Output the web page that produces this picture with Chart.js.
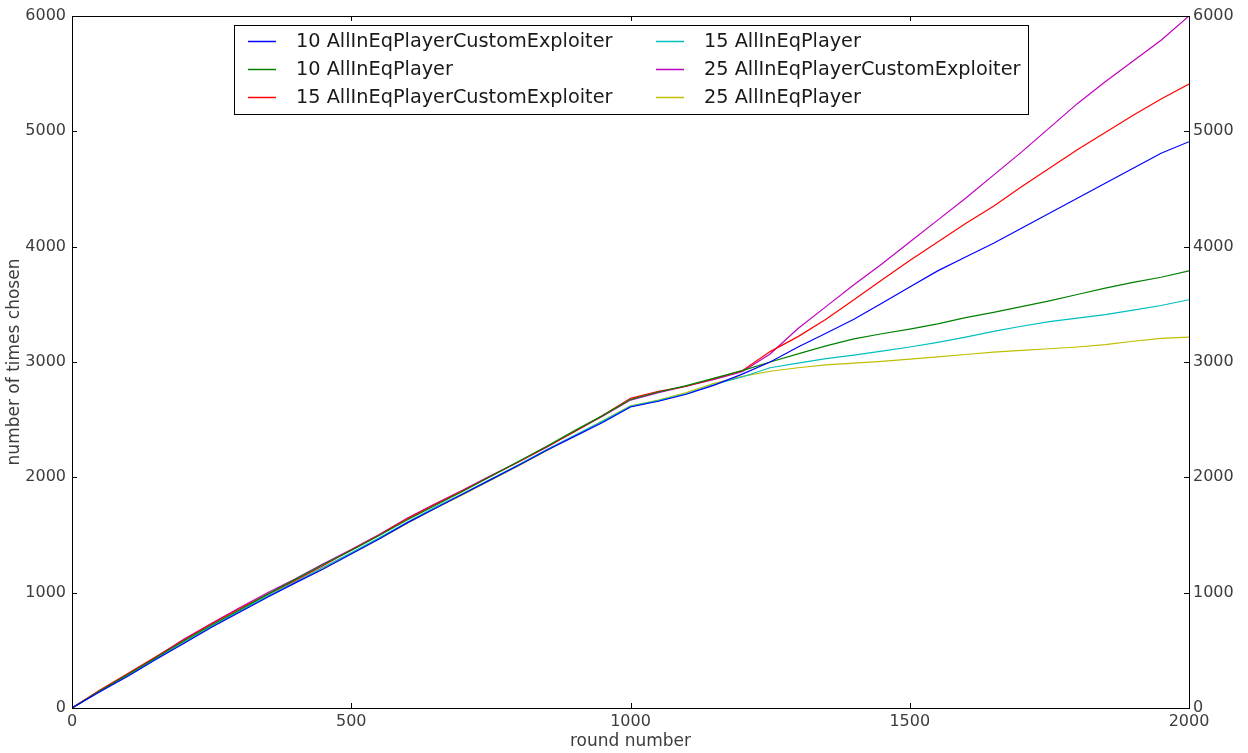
<!DOCTYPE html>
<html>
<head>
<meta charset="utf-8">
<script src="https://cdn.jsdelivr.net/npm/chart.js@4/dist/chart.umd.min.js"></script>
<style>
  html, body { margin: 0; padding: 0; background: #ffffff; }
  #wrap { width: 1248px; height: 753px; }
</style>
</head>
<body>
<div id="wrap"><canvas id="c" width="1248" height="753"></canvas></div>
<script>
// Round numbers sampled every 50 rounds
const rounds = [];
for (let r = 0; r <= 2000; r += 50) rounds.push(r);

const xTicks = [0, 500, 1000, 1500, 2000];
const yTicks = [0, 1000, 2000, 3000, 4000, 5000, 6000];

const seriesNames = [
  "10 AllInEqPlayerCustomExploiter",
  "10 AllInEqPlayer",
  "15 AllInEqPlayerCustomExploiter",
  "15 AllInEqPlayer",
  "25 AllInEqPlayerCustomExploiter",
  "25 AllInEqPlayer"
];

const exploiter10 = [0,140,275,420,560,700,830,960,1085,1205,1335,1465,1605,1730,1855,1980,2105,2235,2355,2475,2610,2660,2720,2800,2895,
  3000,3130,3250,3370,3510,3650,3790,3910,4030,4160,4290,4420,4550,4680,4810,4910];
const eqPlayer10 = [0,150,290,435,580,720,850,985,1115,1245,1365,1495,1630,1755,1880,2010,2140,2270,2405,2535,2675,2740,2795,2860,2925,
  3000,3070,3140,3200,3245,3285,3330,3385,3430,3480,3530,3585,3640,3690,3735,3790];
const exploiter15 = [0,155,300,445,590,730,860,985,1105,1235,1370,1500,1640,1765,1885,2010,2135,2265,2395,2535,2685,2745,2790,2855,2925,
  3090,3220,3370,3540,3710,3880,4040,4200,4350,4520,4680,4840,4990,5140,5280,5410];
const eqPlayer15 = [0,145,280,425,570,710,840,970,1095,1220,1345,1475,1610,1740,1860,1985,2110,2240,2365,2485,2615,2665,2725,2805,2870,
  2950,2990,3030,3060,3095,3130,3170,3215,3265,3310,3350,3380,3410,3450,3490,3540];
const exploiter25 = [0,150,295,440,595,735,870,1000,1120,1250,1375,1505,1645,1770,1890,2015,2135,2260,2400,2530,2670,2735,2790,2850,2915,
  3070,3290,3480,3670,3850,4040,4230,4420,4620,4820,5030,5240,5430,5610,5790,6000];
const eqPlayer25 = [0,150,285,425,565,705,835,965,1090,1215,1340,1465,1600,1730,1850,1975,2100,2230,2360,2490,2620,2670,2735,2815,2875,
  2920,2950,2975,2990,3005,3025,3045,3065,3085,3100,3115,3130,3150,3180,3205,3215];

const seriesValues = [exploiter10, eqPlayer10, exploiter15, eqPlayer15, exploiter25, eqPlayer25];
const seriesColors = ["#0000ff", "#008000", "#ff0000", "#00bfbf", "#bf00bf", "#bfbf00"];

const FONT = "'DejaVu Sans', sans-serif";
const TEXT = "#3c3c3c";

const datasets = seriesNames.map((name, i) => ({
  label: name,
  data: rounds.map((r, j) => ({ x: r, y: seriesValues[i][j] })),
  borderColor: seriesColors[i],
  backgroundColor: seriesColors[i],
  borderWidth: 1.2,
  pointRadius: 0,
  tension: 0,
  fill: false,
  yAxisID: 'y'
}));

// Frame, inward tick marks and the boxed two-column legend
const framePlugin = {
  id: 'frame',
  afterDatasetsDraw(chart) {
    const { ctx, chartArea: a, scales } = chart;
    ctx.save();
    ctx.strokeStyle = '#000000';
    ctx.lineWidth = 1;
    const len = 5;
    ctx.beginPath();
    xTicks.forEach(v => {
      const px = Math.round(scales.x.getPixelForValue(v)) + 0.5;
      ctx.moveTo(px, a.bottom); ctx.lineTo(px, a.bottom - len);
      ctx.moveTo(px, a.top); ctx.lineTo(px, a.top + len);
    });
    yTicks.forEach(v => {
      const py = Math.round(scales.y.getPixelForValue(v)) + 0.5;
      ctx.moveTo(a.left, py); ctx.lineTo(a.left + len, py);
      ctx.moveTo(a.right, py); ctx.lineTo(a.right - len, py);
    });
    ctx.stroke();
    ctx.strokeRect(Math.round(a.left) + 0.5, Math.round(a.top) + 0.5,
      Math.round(a.right - a.left), Math.round(a.bottom - a.top));
    ctx.restore();
  },
  afterDraw(chart) {
    const { ctx } = chart;
    ctx.save();
    const bx = 234.5, by = 25.5, bw = 794, bh = 89;
    ctx.fillStyle = '#ffffff';
    ctx.fillRect(bx, by, bw, bh);
    ctx.strokeStyle = '#000000';
    ctx.lineWidth = 1;
    ctx.strokeRect(bx, by, bw, bh);
    ctx.font = "19.3px " + FONT;
    ctx.textBaseline = 'middle';
    ctx.textAlign = 'left';
    const cols = [248, 656];
    const rowsY = [41, 69, 97];
    chart.data.datasets.forEach((ds, i) => {
      const col = Math.floor(i / 3), row = i % 3;
      const x0 = cols[col], y0 = rowsY[row];
      ctx.strokeStyle = ds.borderColor;
      ctx.lineWidth = 1.5;
      ctx.beginPath();
      ctx.moveTo(x0, y0 + 0.5); ctx.lineTo(x0 + 28, y0 + 0.5);
      ctx.stroke();
      ctx.fillStyle = '#1a1a1a';
      ctx.fillText(ds.label, x0 + 48, y0 + 1);
    });
    ctx.restore();
  }
};

const plainTick = v => String(v);

new Chart(document.getElementById('c'), {
  type: 'line',
  data: { datasets },
  options: {
    responsive: false,
    animation: false,
    events: [],
    layout: { padding: { top: 16, left: 0, right: 0, bottom: 0 } },
    plugins: { legend: { display: false }, tooltip: { enabled: false } },
    scales: {
      x: {
        type: 'linear',
        min: 0, max: 2000,
        afterBuildTicks(s) { s.ticks = xTicks.map(v => ({ value: v })); },
        afterFit(s) { s.height = 45; },
        grid: { display: false, drawTicks: false },
        border: { display: false },
        ticks: { color: TEXT, font: { family: FONT, size: 16 }, padding: 4, maxRotation: 0, autoSkip: false, callback: plainTick },
        title: { display: true, text: 'round number', color: TEXT, font: { family: FONT, size: 17 }, padding: { top: 0, bottom: 1 } }
      },
      y: {
        type: 'linear',
        position: 'left',
        min: 0, max: 6000,
        afterBuildTicks(s) { s.ticks = yTicks.map(v => ({ value: v })); },
        afterFit(s) { s.width = 72; },
        grid: { display: false, drawTicks: false },
        border: { display: false },
        ticks: { color: TEXT, font: { family: FONT, size: 16 }, padding: 6, autoSkip: false, callback: plainTick },
        title: { display: true, text: 'number of times chosen', color: TEXT, font: { family: FONT, size: 17 }, padding: { top: 4, bottom: 0 } }
      },
      y2: {
        type: 'linear',
        position: 'right',
        min: 0, max: 6000,
        afterBuildTicks(s) { s.ticks = yTicks.map(v => ({ value: v })); },
        afterFit(s) { s.width = 59; },
        grid: { display: false, drawTicks: false },
        border: { display: false },
        ticks: { color: TEXT, font: { family: FONT, size: 16 }, padding: 4, autoSkip: false, callback: plainTick }
      }
    }
  },
  plugins: [framePlugin]
});
</script>
</body>
</html>
